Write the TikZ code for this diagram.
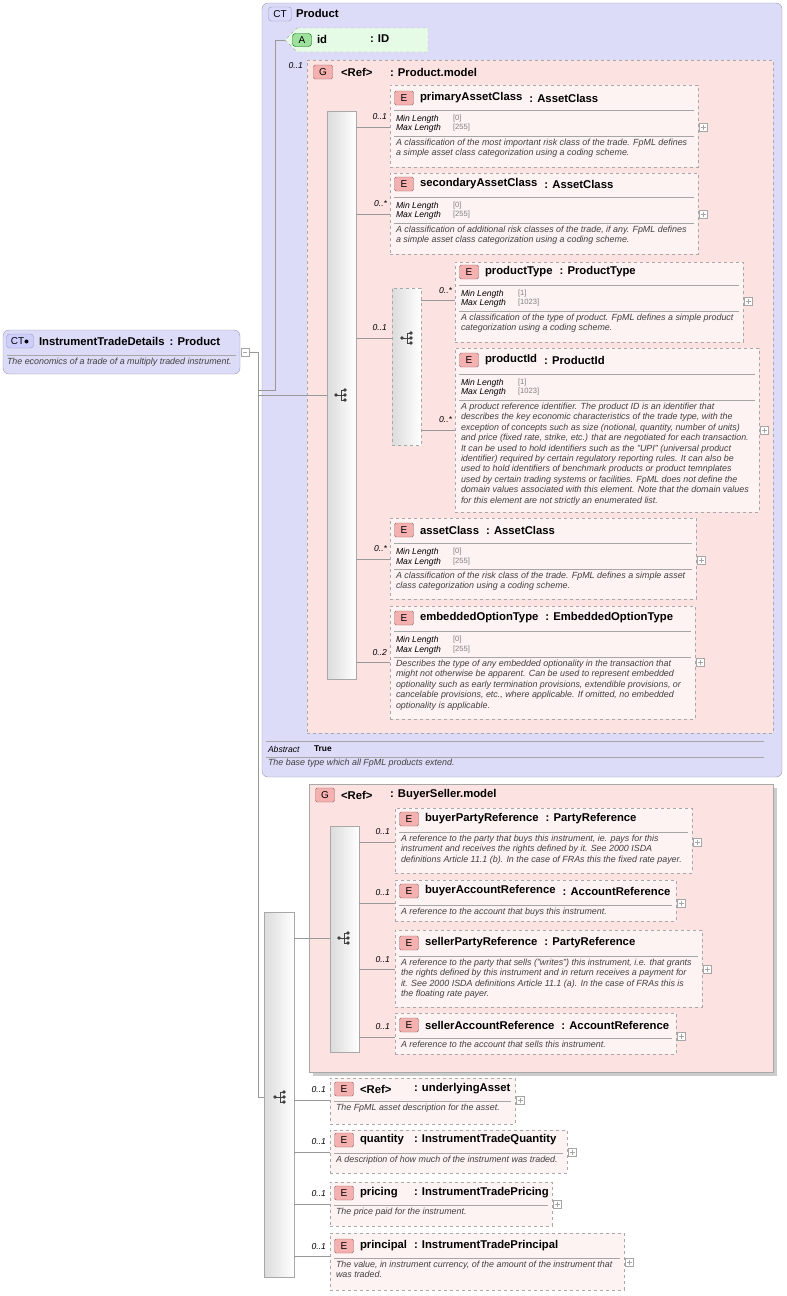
\documentclass[tikz,border=0pt]{standalone}
\usepackage{fontspec}
\setmainfont{Liberation Sans}
\usetikzlibrary{positioning}
\definecolor{ctfill}{HTML}{DCDCF8}
\definecolor{ctline}{HTML}{9A9AB0}
\definecolor{gfill}{HTML}{FDE2E2}
\definecolor{efill}{HTML}{FEF3F3}
\definecolor{badgeE}{HTML}{F5B0B0}
\definecolor{afill}{HTML}{E6FBE6}
\definecolor{abadge}{HTML}{9EE09E}
\definecolor{boxline}{HTML}{A8A8A8}
\tikzset{
  every node/.style={inner sep=0pt, outer sep=0pt},
  ctbox/.style={draw=ctline, fill=ctfill, rounded corners=6pt},
  gbox/.style={draw=boxline, dashed, fill=gfill},
  elem/.style={draw=boxline, dashed, fill=efill},
  seqbox/.style={draw=boxline, left color=gray!28, right color=white},
  conn/.style={draw=gray!80, line width=.6pt},
  ttl/.style={anchor=west, font=\bfseries\fontsize{11.3}{13}\selectfont},
  card/.style={anchor=south east, font=\itshape\fontsize{8.6}{10}\selectfont},
  lbl/.style={anchor=west, font=\itshape\fontsize{8.6}{10}\selectfont},
  val/.style={anchor=west, text=gray, font=\fontsize{7.6}{10}\selectfont},
  desc/.style={anchor=north west, align=left, text=black!75,
    font=\itshape\fontsize{8.9}{10.4}\selectfont,
    execute at begin node={\setlength{\baselineskip}{10.4pt}}},
  seqicon/.pic={
    \fill[black!75] (-5,0) circle (1.8);
    \draw[black!75, line width=.9pt] (-5,0) -- (0,0) (0,-5) -- (0,5)
      (0,-5) -- (4,-5) (0,0) -- (4,0) (0,5) -- (4,5);
    \foreach \yy in {-5,0,5} \fill[black!75] (4,\yy) circle (1.8);
  },
  plusbox/.pic={
    \draw[gray!70, fill=white] (0,-4) rectangle (8,4);
    \draw[gray!70] (1.5,0) -- (6.5,0) (4,-2.5) -- (4,2.5);
  },
}
% box node from corners
\newcommand{\bx}[6]{\node[#6, anchor=north west, minimum width={(#4-#2)*1pt},
  minimum height={(#5-#3)*1pt}] (#1) at (#2,#3) {};}
% badge
\newcommand{\badge}[4]{\node[draw=#4!60!black, fill=#4, rounded corners=1.5pt,
  minimum width=19pt, minimum height=14pt, font=\fontsize{10}{11}\selectfont] at (#1,#2) {#3};}
% element header with type right after the name
\newcommand{\ehead}[4]{%
  \badge{#2+14}{#3}{E}{badgeE}
  \node[ttl] (#1n) at (#2+30,#3) {#4};
  \node[ttl, right=7pt of #1n] {: #1};}
% element header with type at a given x
\newcommand{\eheadat}[5]{%
  \badge{#2+14}{#3}{E}{badgeE}
  \node[ttl] at (#2+30,#3) {#4};
  \node[ttl] at (#5,#3) {: #1};}
\newcommand{\minmax}[5]{%
  \node[lbl] at (#1+6,#2) {Min Length}; \node[val] at (#1+63,#2) {[#4]};
  \node[lbl] at (#1+6,#3) {Max Length}; \node[val] at (#1+63,#3) {[#5]};}
\newcommand{\sep}[3]{\draw[gray!70] (#1,#3) -- (#2,#3);}
\begin{document}
\begin{tikzpicture}[x=1pt, y=-1pt]
\useasboundingbox[fill=white] (0,0) rectangle (787,1296);

% root
\bx{root}{3}{330}{240}{374}{ctbox}
\node[draw=ctline, fill=ctfill!60!blue!40, rounded corners=3pt, minimum width=27pt, minimum height=14pt,
  font=\fontsize{10}{11}\selectfont] at (20,341) {CT$\bullet$};
\node[ttl] at (39,341) {InstrumentTradeDetails\, : Product};
\sep{7}{236}{355}
\node[desc] at (7,358) {The economics of a trade of a multiply traded instrument.};
\draw[gray!70, fill=white] (241,348) rectangle (249,356) (243,352) -- (247,352);

% Product
\bx{prod}{262}{3}{782}{777}{ctbox}
\node[draw=ctline, fill=ctfill!60!blue!30, rounded corners=3pt, minimum width=23pt, minimum height=14pt,
  font=\fontsize{10}{11}\selectfont] at (280,14) {CT};
\node[ttl] at (296,13) {Product};
\fill[afill, draw=boxline, dashed] (297,28) -- (428,28) -- (428,52) -- (297,52) -- (285,40) -- cycle;
\node[draw=green!40!black, fill=abadge, rounded corners=3pt, minimum width=19pt, minimum height=13pt,
  font=\fontsize{10}{11}\selectfont] (abadge) at (302,40) {A};
\node[ttl] at (317,39) {id};
\node[ttl] at (370,39) {: ID};
\node[card] at (303,69) {0..1};
\bx{pmodel}{307}{60}{773}{733}{gbox}
\badge{323}{72}{G}{badgeE}
\node[ttl] at (341,72) {<Ref>};
\node[ttl] at (390,72) {: Product.model};
\bx{seqA}{327}{111}{356}{679}{seqbox}
\pic at (341,395) {seqicon};

% primaryAssetClass
\bx{pac}{390}{85}{698}{167}{elem}
\ehead{AssetClass}{390}{98}{primaryAssetClass}
\sep{394}{694}{110} \minmax{390}{119}{128}{0}{255} \sep{394}{694}{136}
\node[desc] at (396,139) {A classification of the most important risk class of the trade. FpML defines\\a simple asset class categorization using a coding scheme.};
\pic at (699,127) {plusbox};
% secondaryAssetClass
\bx{sac}{390}{173}{698}{254}{elem}
\ehead{AssetClass}{390}{184}{secondaryAssetClass}
\sep{394}{694}{197} \minmax{390}{206}{215}{0}{255} \sep{394}{694}{223}
\node[desc] at (396,226) {A classification of additional risk classes of the trade, if any. FpML defines\\a simple asset class categorization using a coding scheme.};
\pic at (699,214) {plusbox};

% inner choice
\bx{seqB}{392}{288}{421}{445}{seqbox, dashed}
\pic at (407,338) {seqicon};
\bx{ptype}{455}{262}{743}{342}{elem}
\ehead{ProductType}{455}{272}{productType}
\sep{459}{739}{285} \minmax{455}{294}{303}{1}{1023} \sep{459}{739}{311}
\node[desc] at (461,314) {A classification of the type of product. FpML defines a simple product\\categorization using a coding scheme.};
\pic at (744,301) {plusbox};
\bx{pid}{455}{348}{759}{512}{elem}
\ehead{ProductId}{455}{360}{productId}
\sep{459}{755}{374} \minmax{455}{383}{392}{1}{1023} \sep{459}{755}{400}
\node[desc] at (461,403) {A product reference identifier. The product ID is an identifier that\\describes the key economic characteristics of the trade type, with the\\exception of concepts such as size (notional, quantity, number of units)\\and price (fixed rate, strike, etc.) that are negotiated for each transaction.\\It can be used to hold identifiers such as the "UPI" (universal product\\identifier) required by certain regulatory reporting rules. It can also be\\used to hold identifiers of benchmark products or product temnplates\\used by certain trading systems or facilities. FpML does not define the\\domain values associated with this element. Note that the domain values\\for this element are not strictly an enumerated list.};
\pic at (760,430) {plusbox};

% assetClass
\bx{ac}{390}{518}{696}{599}{elem}
\ehead{AssetClass}{390}{530}{assetClass}
\sep{394}{692}{543} \minmax{390}{552}{562}{0}{255} \sep{394}{692}{569}
\node[desc] at (396,572) {A classification of the risk class of the trade. FpML defines a simple asset\\class categorization using a coding scheme.};
\pic at (697,560) {plusbox};
% embeddedOptionType
\bx{eot}{390}{606}{695}{719}{elem}
\ehead{EmbeddedOptionType}{390}{618}{embeddedOptionType}
\sep{394}{691}{631} \minmax{390}{640}{650}{0}{255} \sep{394}{691}{657}
\node[desc] at (396,660) {Describes the type of any embedded optionality in the transaction that\\might not otherwise be apparent. Can be used to represent embedded\\optionality such as early termination provisions, extendible provisions, or\\cancelable provisions, etc., where applicable. If omitted, no embedded\\optionality is applicable.};
\pic at (696,662) {plusbox};

\sep{266}{764}{741}
\node[lbl] at (268,749) {Abstract};
\node[anchor=west, font=\bfseries\fontsize{8.4}{10}\selectfont] at (314,749) {True};
\sep{266}{764}{757}
\node[desc] at (268,759) {The base type which all FpML products extend.};

% BuyerSeller.model
\fill[gray!40] (313,788) rectangle (777,1076);
\bx{bsm}{309}{784}{773}{1072}{draw=boxline, fill=gfill}
\badge{325}{795}{G}{badgeE}
\node[ttl] at (341,795) {<Ref>};
\node[ttl] at (390,795) {: BuyerSeller.model};
\bx{seqC}{330}{826}{359}{1052}{seqbox}
\pic at (344,938) {seqicon};
\bx{bpr}{395}{808}{692}{873}{elem}
\ehead{PartyReference}{395}{819}{buyerPartyReference}
\sep{399}{688}{832}
\node[desc] at (401,835) {A reference to the party that buys this instrument, ie. pays for this\\instrument and receives the rights defined by it. See 2000 ISDA\\definitions Article 11.1 (b). In the case of FRAs this the fixed rate payer.};
\pic at (693,842) {plusbox};
\bx{bar}{395}{880}{676}{921}{elem}
\ehead{AccountReference}{395}{891}{buyerAccountReference}
\sep{399}{672}{905}
\node[desc] at (401,908) {A reference to the account that buys this instrument.};
\pic at (677,903) {plusbox};
\bx{spr}{395}{930}{702}{1007}{elem}
\ehead{PartyReference}{395}{943}{sellerPartyReference}
\sep{399}{698}{956}
\node[desc] at (401,959) {A reference to the party that sells ("writes") this instrument, i.e. that grants\\the rights defined by this instrument and in return receives a payment for\\it. See 2000 ISDA definitions Article 11.1 (a). In the case of FRAs this is\\the floating rate payer.};
\pic at (703,969) {plusbox};
\bx{sar}{395}{1013}{676}{1054}{elem}
\ehead{AccountReference}{395}{1025}{sellerAccountReference}
\sep{399}{672}{1038}
\node[desc] at (401,1041) {A reference to the account that sells this instrument.};
\pic at (677,1036) {plusbox};

% outer sequence
\bx{seqD}{264}{912}{294}{1277}{seqbox}
\pic at (280,1097) {seqicon};
\bx{ua}{330}{1078}{515}{1124}{elem}
\eheadat{underlyingAsset}{330}{1089}{<Ref>}{414}
\sep{334}{511}{1101}
\node[desc] at (336,1104) {The FpML asset description for the asset.};
\pic at (516,1100) {plusbox};
\bx{qty}{330}{1130}{567}{1173}{elem}
\eheadat{InstrumentTradeQuantity}{330}{1140}{quantity}{414}
\sep{334}{563}{1153}
\node[desc] at (336,1156) {A description of how much of the instrument was traded.};
\pic at (568,1152) {plusbox};
\bx{prc}{330}{1182}{552}{1226}{elem}
\eheadat{InstrumentTradePricing}{330}{1193}{pricing}{414}
\sep{334}{548}{1205}
\node[desc] at (336,1208) {The price paid for the instrument.};
\pic at (553,1204) {plusbox};
\bx{prn}{330}{1233}{624}{1290}{elem}
\eheadat{InstrumentTradePrincipal}{330}{1246}{principal}{414}
\sep{334}{620}{1258}
\node[desc] at (336,1261) {The value, in instrument currency, of the amount of the instrument that\\was traded.};
\pic at (625,1262) {plusbox};

% connectors
\draw[conn] (249,352) -- (258,352) |- (seqD.west |- 0,1097);
\draw[conn] (258,390) -| (275,40) -- (285,40);
\draw[conn] (258,395) -- (seqA.west |- 0,395);
\draw[conn] (seqA.east |- 0,127) -- (pac.west |- 0,127);
\draw[conn] (seqA.east |- 0,214) -- (sac.west |- 0,214);
\draw[conn] (seqA.east |- 0,338) -- (seqB.west |- 0,338);
\draw[conn] (seqB.east |- 0,300) -- (ptype.west |- 0,300);
\draw[conn] (seqB.east |- 0,430) -- (pid.west |- 0,430);
\draw[conn] (seqA.east |- 0,559) -- (ac.west |- 0,559);
\draw[conn] (seqA.east |- 0,662) -- (eot.west |- 0,662);
\draw[conn] (seqD.east |- 0,938) -- (seqC.west |- 0,938);
\draw[conn] (seqC.east |- 0,842) -- (bpr.west |- 0,842);
\draw[conn] (seqC.east |- 0,903) -- (bar.west |- 0,903);
\draw[conn] (seqC.east |- 0,969) -- (spr.west |- 0,969);
\draw[conn] (seqC.east |- 0,1037) -- (sar.west |- 0,1037);
\draw[conn] (seqD.east |- 0,1100) -- (ua.west |- 0,1100);
\draw[conn] (seqD.east |- 0,1152) -- (qty.west |- 0,1152);
\draw[conn] (seqD.east |- 0,1204) -- (prc.west |- 0,1204);
\draw[conn] (seqD.east |- 0,1256) -- (prn.west |- 0,1256);

% cardinalities
\node[card] at (387,120) {0..1};
\node[card] at (387,207) {0..*};
\node[card] at (387,331) {0..1};
\node[card] at (452,294) {0..*};
\node[card] at (452,423) {0..*};
\node[card] at (387,552) {0..*};
\node[card] at (387,656) {0..2};
\node[card] at (390,835) {0..1};
\node[card] at (390,896) {0..1};
\node[card] at (390,963) {0..1};
\node[card] at (390,1030) {0..1};
\node[card] at (326,1093) {0..1};
\node[card] at (326,1145) {0..1};
\node[card] at (326,1197) {0..1};
\node[card] at (326,1250) {0..1};
\end{tikzpicture}
\end{document}
